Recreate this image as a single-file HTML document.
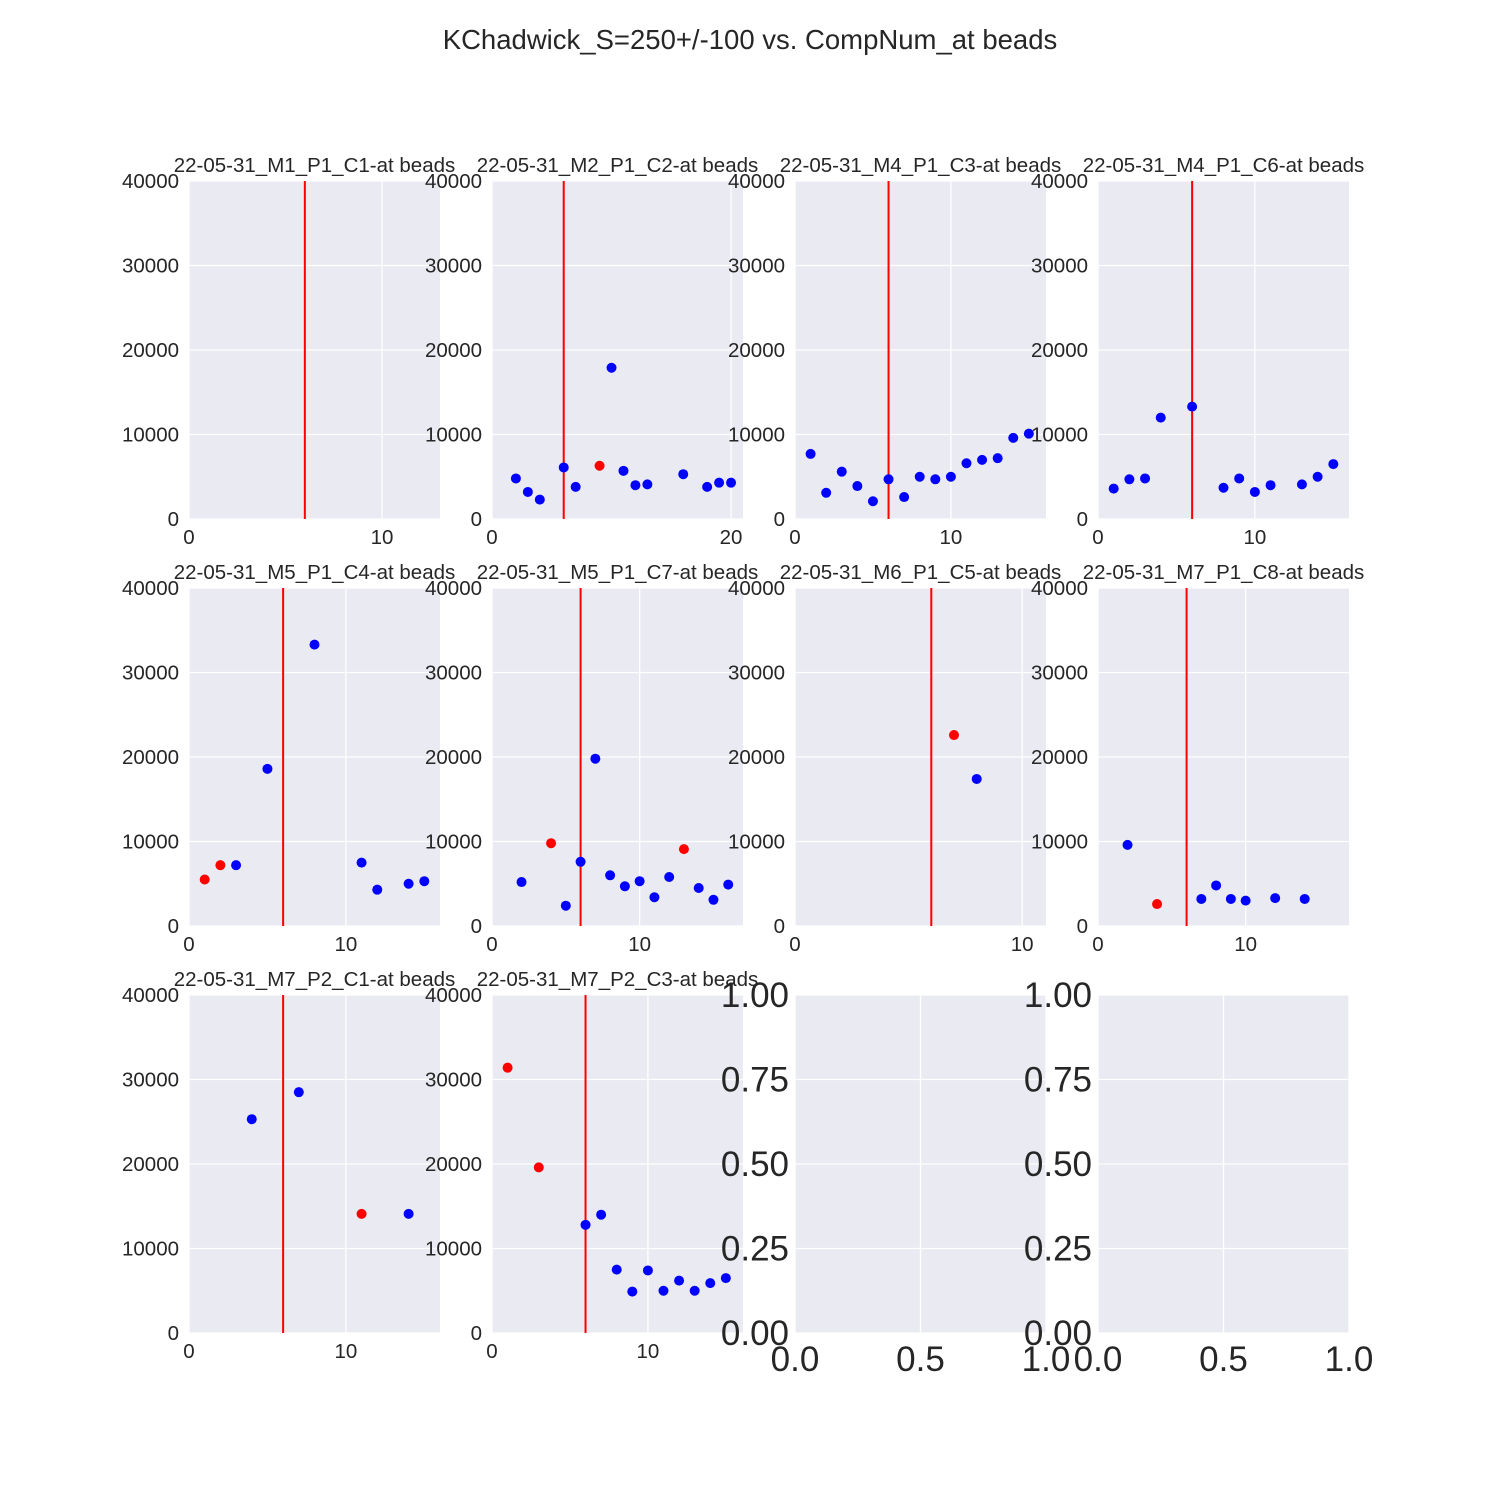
<!DOCTYPE html>
<html><head><meta charset="utf-8"><style>
body{margin:0;background:#fff;}
svg text{font-family:"Liberation Sans",Arial,sans-serif;fill:#262626;}
</style></head><body>
<svg id="fig" width="1500" height="1500" xmlns="http://www.w3.org/2000/svg">
<text x="750" y="49" text-anchor="middle" font-size="27.5">KChadwick_S=250+/-100 vs. CompNum_at beads</text>
</svg>
<script>
const titles = ["22-05-31_M1_P1_C1-at beads","22-05-31_M2_P1_C2-at beads","22-05-31_M4_P1_C3-at beads","22-05-31_M4_P1_C6-at beads","22-05-31_M5_P1_C4-at beads","22-05-31_M5_P1_C7-at beads","22-05-31_M6_P1_C5-at beads","22-05-31_M7_P1_C8-at beads","22-05-31_M7_P2_C1-at beads","22-05-31_M7_P2_C3-at beads"];
const xMax = [13, 21, 16.1, 16, 16, 17, 11.05, 17, 16, 16.1];
const xTicks = [[0,10],[0,20],[0,10],[0,10],[0,10],[0,10],[0,10],[0,10],[0,10],[0,10]];
const redLine = [6, 6, 6, 6, 6, 6, 6, 6, 6, 6];
const yTicks = [0,10000,20000,30000,40000];
const px = [[],[2,3,4,6,7,9,10,11,12,13,16,18,19,20],[1,2,3,4,5,6,7,8,9,10,11,12,13,14,15],[1,2,3,4,6,8,9,10,11,13,14,15],[1,2,3,5,8,11,12,14,15],[2,4,5,6,7,8,9,10,11,12,13,14,15,16],[7,8],[2,4,7,8,9,10,12,14],[4,7,11,14],[1,3,6,7,8,9,10,11,12,13,14,15]];
const py = [[],[4800,3200,2300,6100,3800,6300,17900,5700,4000,4100,5300,3800,4300,4300],[7700,3100,5600,3900,2100,4700,2600,5000,4700,5000,6600,7000,7200,9600,10100],[3600,4700,4800,12000,13300,3700,4800,3200,4000,4100,5000,6500],[5500,7200,7200,18600,33300,7500,4300,5000,5300],[5200,9800,2400,7600,19800,6000,4700,5300,3400,5800,9100,4500,3100,4900],[22600,17400],[9600,2600,3200,4800,3200,3000,3300,3200],[25300,28500,14100,14100],[31400,19600,12800,14000,7500,4900,7400,5000,6200,5000,5900,6500]];
const pred = [[],[0,0,0,0,0,1,0,0,0,0,0,0,0,0],[0,0,0,0,0,0,0,0,0,0,0,0,0,0,0],[0,0,0,0,0,0,0,0,0,0,0,0],[1,1,0,0,0,0,0,0,0],[0,1,0,0,0,0,0,0,0,0,1,0,0,0],[1,0],[0,1,0,0,0,0,0,0],[0,0,1,0],[1,1,0,0,0,0,0,0,0,0,0,0]];
const emptyTicks = [0,0.25,0.5,0.75,1];
const emptyXTicks = [0,0.5,1];

const svg = document.getElementById('fig');
const NS = 'http://www.w3.org/2000/svg';
const colX = [189,492,795,1098], rowY = [181,588,995], W = 251, H = 338;
function mk(tag, attrs, parent){const e=document.createElementNS(NS,tag);for(const k in attrs)e.setAttribute(k,attrs[k]);(parent||svg).appendChild(e);return e;}

for(let i=0;i<12;i++){
  const c=i%4, r=Math.floor(i/4), L=colX[c], T=rowY[r];
  const g=mk('g',{});
  
  
  const bg=mk('rect',{x:L,y:T,width:W,height:H,fill:'#eaeaf2'},g);
  
  
  if(i>=10){
    const sx=v=>L+v*W, sy=v=>T+H-v*H;
    emptyTicks.forEach(t=>{
      mk('line',{x1:L,x2:L+W,y1:sy(t),y2:sy(t),stroke:'#fff','stroke-width':1.3},g);
      const tx=mk('text',{x:L-6,y:sy(t)+12,'text-anchor':'end','font-size':35},g);tx.textContent=t.toFixed(2);
      
      
    });
    emptyXTicks.forEach(t=>{
      mk('line',{x1:sx(t),x2:sx(t),y1:T,y2:T+H,stroke:'#fff','stroke-width':1.3},g);
      const tx=mk('text',{x:sx(t),y:T+H+38,'text-anchor':'middle','font-size':35},g);tx.textContent=t.toFixed(1);
      
      
    });
    continue;
  }
  const sx=v=>L+v/xMax[i]*W, sy=v=>T+H-v/40000*H;
  yTicks.forEach(t=>{
    mk('line',{x1:L,x2:L+W,y1:sy(t),y2:sy(t),stroke:'#fff','stroke-width':1.3},g);
    const tx=mk('text',{x:L-10,y:sy(t)+7,'text-anchor':'end','font-size':20.5},g);tx.textContent=t;
    
    
  });
  xTicks[i].forEach(t=>{
    mk('line',{x1:sx(t),x2:sx(t),y1:T,y2:T+H,stroke:'#fff','stroke-width':1.3},g);
    const tx=mk('text',{x:sx(t),y:T+H+25,'text-anchor':'middle','font-size':20.5},g);tx.textContent=t;
    
    
  });
  const tt=mk('text',{x:L+W/2,y:T-9,'text-anchor':'middle','font-size':20.5},g);tt.textContent=titles[i];
  
  
  const rl=mk('line',{x1:sx(redLine[i]),x2:sx(redLine[i]),y1:T,y2:T+H,stroke:'#ff0000','stroke-width':2},g);
  
  
  px[i].forEach((x,j)=>{
    const p=mk('circle',{cx:sx(x),cy:sy(py[i][j]),r:5,fill:pred[i][j]?'#ff0000':'#0000ff'},g);
    
    
  });
}
</script>
</body></html>
